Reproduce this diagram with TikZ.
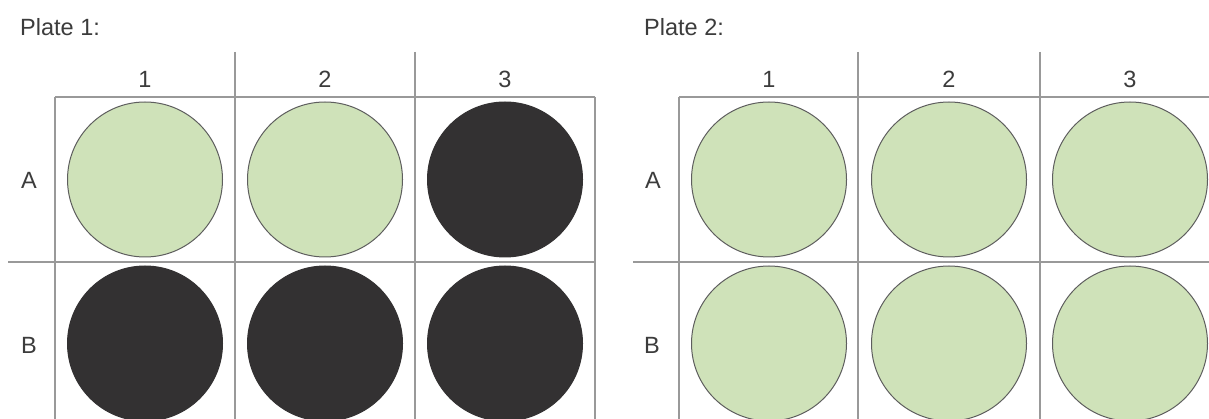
\documentclass[tikz,border=0pt]{standalone}
\usepackage{fontspec}
\setmainfont{Liberation Sans}
\begin{document}
\begin{tikzpicture}[x=1pt,y=-1pt,
  lbl/.style={text=txt,font=\fontsize{23.5}{28}\selectfont,inner sep=0pt},
  gridline/.style={draw=gridc,line width=1.5pt},
  well/.style={circle,draw=rimc,line width=1pt,minimum size=155pt,inner sep=0pt},
  poswell/.style={well,fill=greenc},
  negwell/.style={well,fill=darkc,draw=darkc}]
\definecolor{txt}{HTML}{3C3C3C}
\definecolor{gridc}{HTML}{999999}
\definecolor{rimc}{HTML}{5E5E5E}
\definecolor{greenc}{HTML}{CFE2B9}
\definecolor{darkc}{HTML}{333132}
\useasboundingbox[fill=white] (0,0) rectangle (1209,419);
\begin{scope}
\clip (0,0) rectangle (1209,419);
% Plate 1 grid
\draw[gridline] (55,97) -- (595,97);
\draw[gridline] (8,262) -- (595,262);
\draw[gridline] (55,97) -- (55,430);
\draw[gridline] (235,52) -- (235,430);
\draw[gridline] (415,52) -- (415,430);
\draw[gridline] (595,97) -- (595,430);
% Plate 2 grid
\draw[gridline] (679,97) -- (1215,97);
\draw[gridline] (633,262) -- (1215,262);
\draw[gridline] (679,97) -- (679,430);
\draw[gridline] (858,52) -- (858,430);
\draw[gridline] (1040,52) -- (1040,430);
% wells plate 1
\node[poswell] (p1a1) at (145,179.5) {};
\node[poswell] (p1a2) at (325,179.5) {};
\node[negwell] (p1a3) at (505,179.5) {};
\node[negwell] (p1b1) at (145,343.5) {};
\node[negwell] (p1b2) at (325,343.5) {};
\node[negwell] (p1b3) at (505,343.5) {};
% wells plate 2
\node[poswell] (p2a1) at (769,179.5) {};
\node[poswell] (p2a2) at (949,179.5) {};
\node[poswell] (p2a3) at (1130,179.5) {};
\node[poswell] (p2b1) at (769,343.5) {};
\node[poswell] (p2b2) at (949,343.5) {};
\node[poswell] (p2b3) at (1130,343.5) {};
\end{scope}
% labels
\node[lbl,anchor=base west] (t1) at (20,36) {Plate 1:};
\node[lbl,anchor=base west] (t2) at (644,36) {Plate 2:};
\node[lbl] (p1c1) at (145,79) {1};
\node[lbl] (p1c2) at (325,79) {2};
\node[lbl] (p1c3) at (505,79) {3};
\node[lbl] (p1ra) at (29,180) {A};
\node[lbl] (p1rb) at (29,345) {B};
\node[lbl] (p2c1) at (769,79) {1};
\node[lbl] (p2c2) at (949,79) {2};
\node[lbl] (p2c3) at (1130,79) {3};
\node[lbl] (p2ra) at (653,180) {A};
\node[lbl] (p2rb) at (652,345) {B};
\end{tikzpicture}
\end{document}
